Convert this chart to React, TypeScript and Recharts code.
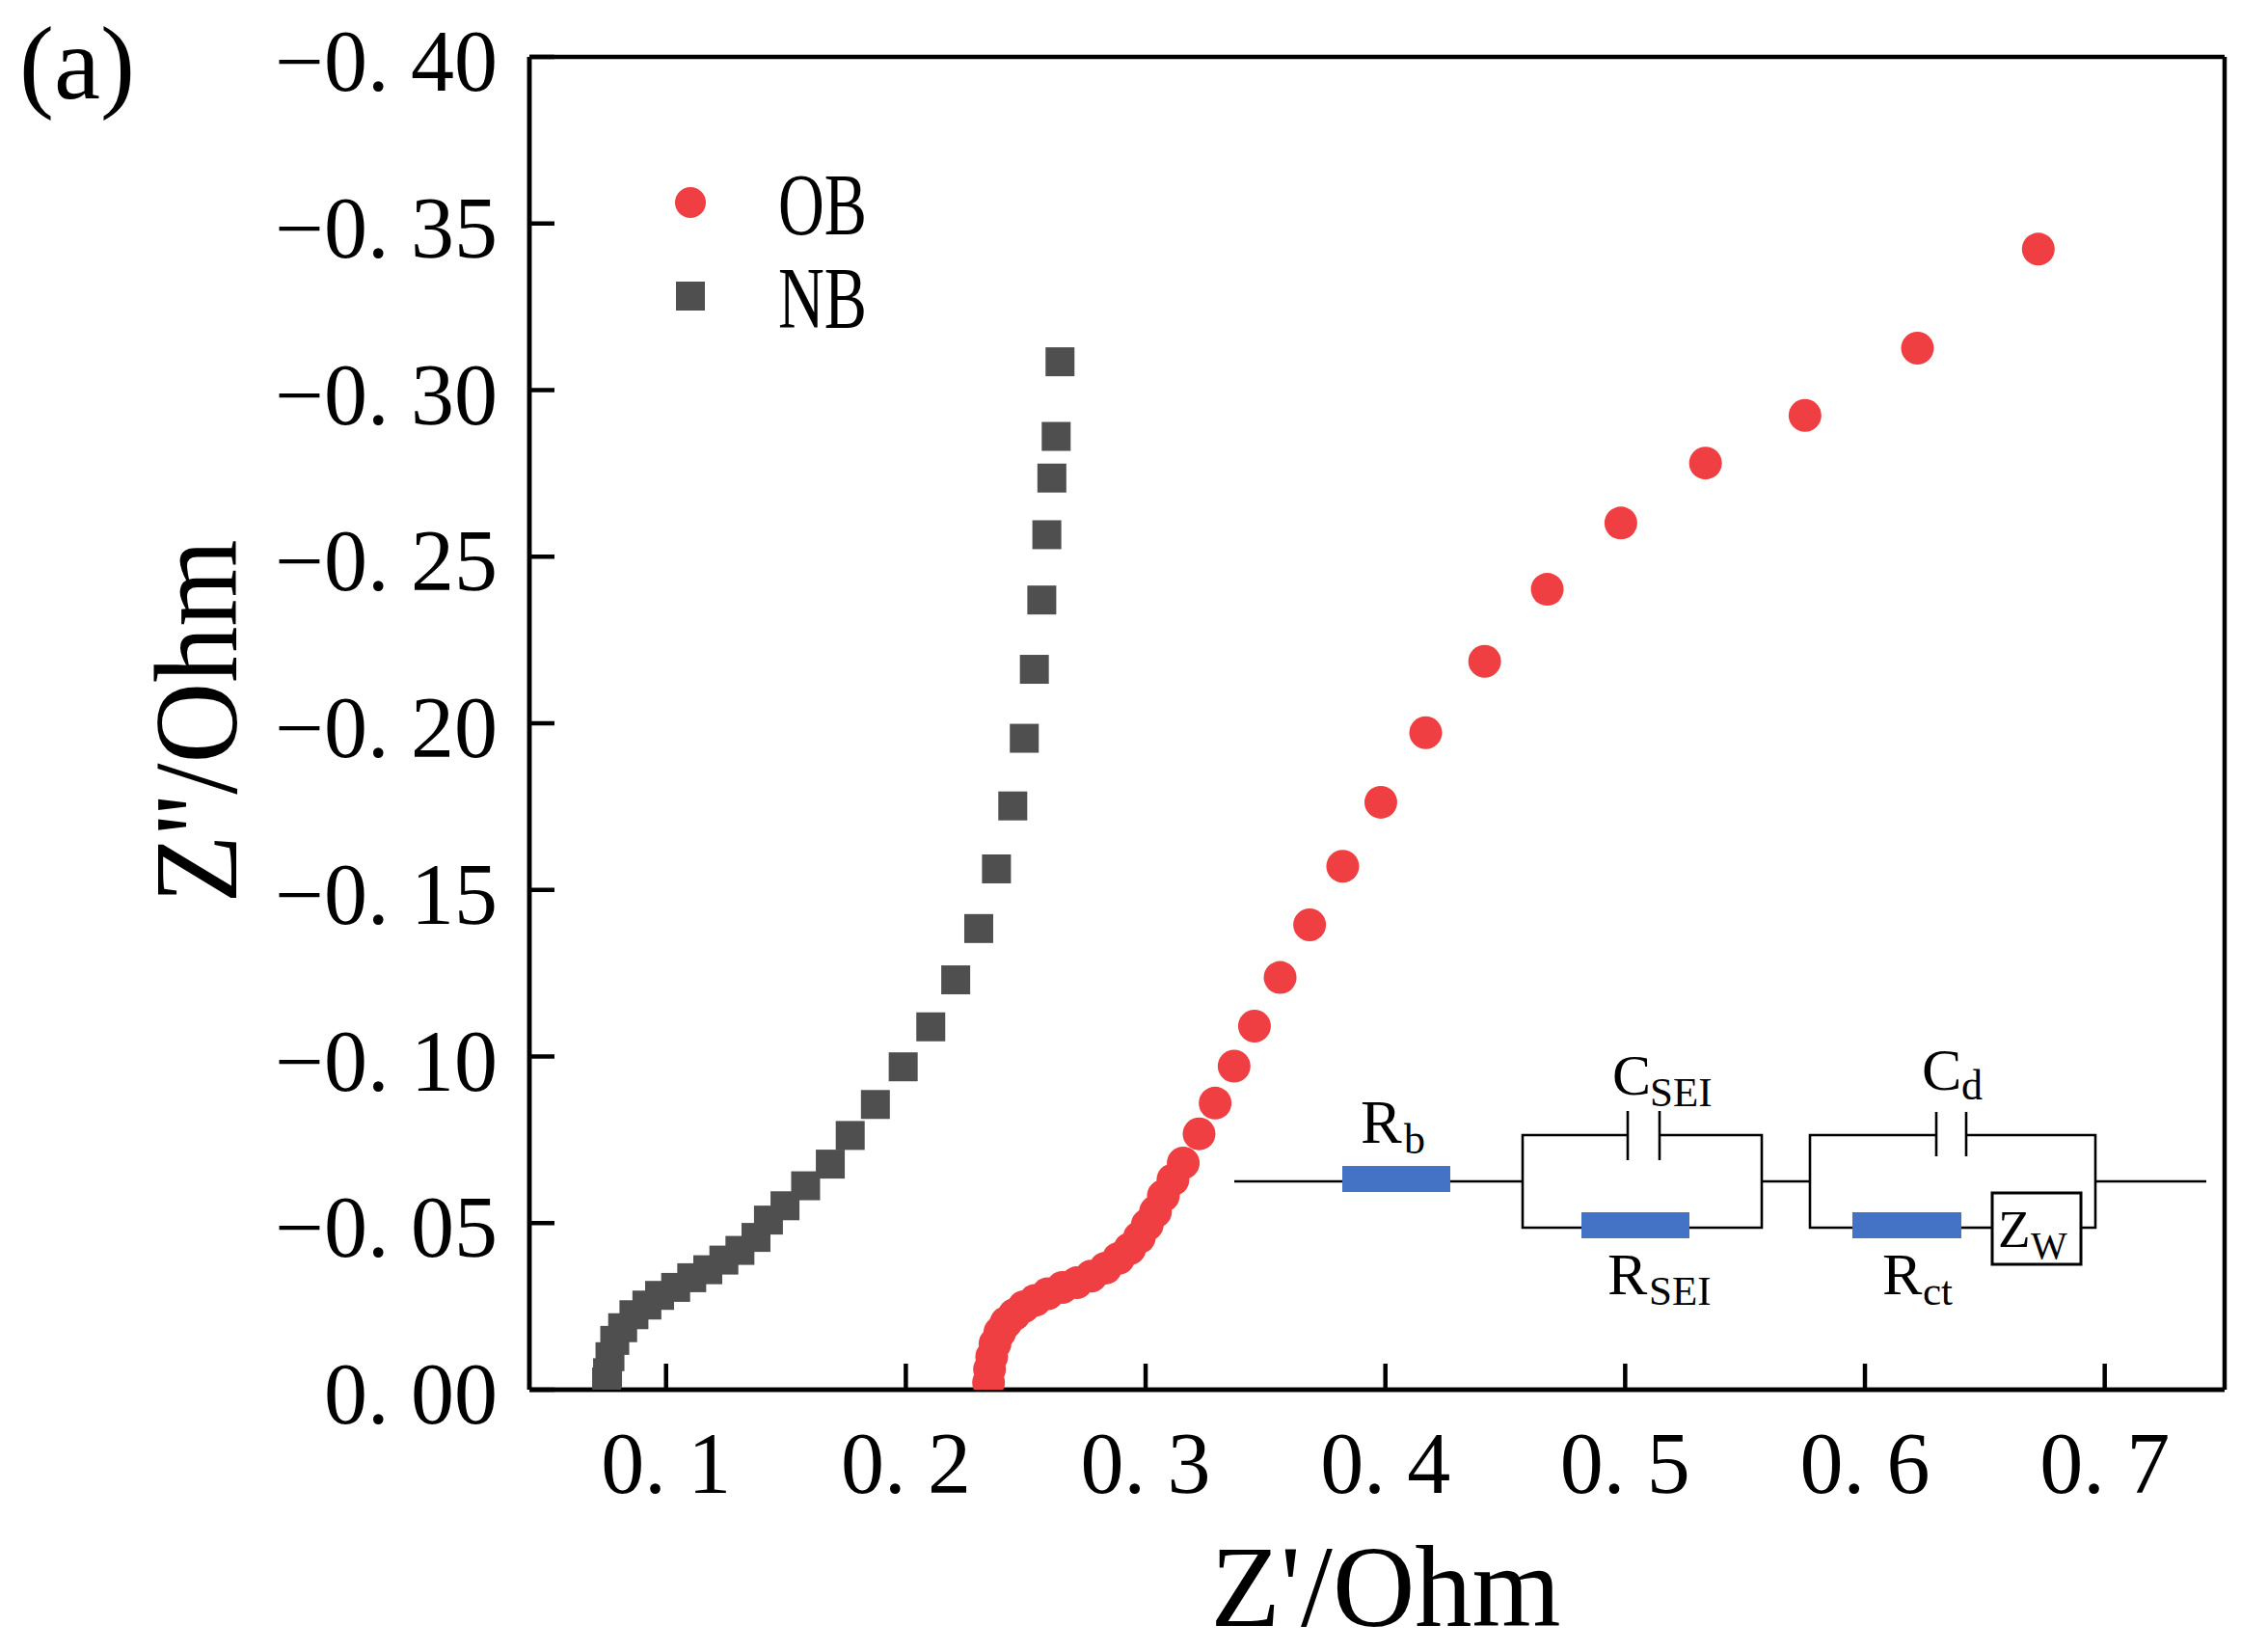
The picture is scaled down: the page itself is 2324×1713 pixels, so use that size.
import React from "react";
import {
  CartesianGrid,
  Legend,
  Scatter,
  ScatterChart,
  XAxis,
  YAxis,
} from "recharts";

const OB_ZRE = [
  0.2345, 0.2349, 0.2358, 0.2372, 0.2392, 0.2418, 0.2452, 0.2492, 0.2539, 0.2592,
  0.2653, 0.2713, 0.2773, 0.2833, 0.2887, 0.2934, 0.2974, 0.3007, 0.3041, 0.3074,
  0.3114, 0.3157, 0.3223, 0.329, 0.3369, 0.3454, 0.3561, 0.3684, 0.3822, 0.3981,
  0.4168, 0.4414, 0.4675, 0.4982, 0.5335, 0.575, 0.6219, 0.6723,
];
const OB_ZIM = [
  -0.0022, -0.0061, -0.0099, -0.0138, -0.0172, -0.0201, -0.0225, -0.0249, -0.0268, -0.0288,
  -0.0307, -0.0321, -0.0341, -0.0365, -0.0394, -0.0423, -0.0457, -0.0495, -0.0534, -0.0582,
  -0.063, -0.068, -0.0768, -0.086, -0.0971, -0.1091, -0.1237, -0.1395, -0.1571, -0.1763,
  -0.1972, -0.2186, -0.2402, -0.2601, -0.2781, -0.2924, -0.3126, -0.3423,
];
const NB_ZRE = [
  0.0752, 0.0756, 0.0766, 0.0786, 0.0819, 0.0866, 0.092, 0.0973, 0.104, 0.1107,
  0.1174, 0.1241, 0.1308, 0.1375, 0.1427, 0.1496, 0.1582, 0.1685, 0.1768, 0.1873,
  0.1989, 0.2104, 0.2208, 0.2304, 0.2378, 0.2446, 0.2494, 0.2536, 0.2567, 0.2588,
  0.2609, 0.2627, 0.2643,
];
const NB_ZIM = [
  -0.0023, -0.0051, -0.0099, -0.0148, -0.0186, -0.0225, -0.0254, -0.0283, -0.0307, -0.0336,
  -0.036, -0.0389, -0.0418, -0.0457, -0.0509, -0.0552, -0.0612, -0.0677, -0.0763, -0.0856,
  -0.0969, -0.1089, -0.123, -0.1384, -0.1563, -0.1752, -0.1955, -0.2162, -0.237, -0.2566,
  -0.2736, -0.2861, -0.3085,
];

const X_TICKS = [0.1, 0.2, 0.3, 0.4, 0.5, 0.6, 0.7];
const Y_TICKS = [0, -0.05, -0.1, -0.15, -0.2, -0.25, -0.3, -0.35, -0.4];

const RED = "#ef3f42";
const GREY = "#4f4f4f";
const BLUE = "#4472c4";
const FONT = '"Liberation Serif", "Times New Roman", serif';

const toRows = (re: number[], im: number[]) => re.map((x, i) => ({ x, y: im[i] }));
const obRows = toRows(OB_ZRE, OB_ZIM);
const nbRows = toRows(NB_ZRE, NB_ZIM);

const fmtX = (v: number) => `0. ${Math.round(v * 10)}`;
const fmtY = (v: number) =>
  v === 0 ? "0. 00" : `\u22120. ${String(Math.round(Math.abs(v) * 100)).padStart(2, "0")}`;

function XTick({ x, y, payload }: any) {
  return (
    <g>
      <line x1={x} x2={x} y1={y} y2={y - 27} stroke="#000" strokeWidth={4.5} />
      <text x={x} y={y + 107} textAnchor="middle" fontFamily={FONT} fontSize={90} fill="#000">
        {fmtX(payload.value)}
      </text>
    </g>
  );
}

function YTick({ x, y, payload }: any) {
  return (
    <g>
      <line x1={x} x2={x + 26} y1={y} y2={y} stroke="#000" strokeWidth={4.5} />
      <text x={x - 33} y={y + 35} textAnchor="end" fontFamily={FONT} fontSize={90} fill="#000">
        {fmtY(payload.value)}
      </text>
    </g>
  );
}

const dot = (p: any) => <circle cx={p.cx} cy={p.cy} r={17} fill={RED} />;
const square = (p: any) => <rect x={p.cx - 15} y={p.cy - 15} width={30} height={30} fill={GREY} />;

function LegendBox() {
  const rows = [
    { name: "OB", kind: "circle" },
    { name: "NB", kind: "square" },
  ];
  return (
    <svg width={300} height={240}>
      {rows.map((r, i) => {
        const cy = 60 + i * 97;
        return (
          <g key={r.name}>
            {r.kind === "circle" ? (
              <circle cx={26} cy={cy} r={16} fill={RED} />
            ) : (
              <rect x={11} y={cy - 15} width={30} height={30} fill={GREY} />
            )}
            <text
              x={117}
              y={cy + 33}
              fontFamily={FONT}
              fontSize={90}
              textLength={92}
              lengthAdjust="spacingAndGlyphs"
              fill="#000"
            >
              {r.name}
            </text>
          </g>
        );
      })}
    </svg>
  );
}

function Circuit() {
  const w = { stroke: "#000", strokeWidth: 2.6, fill: "none" };
  const lab = { fontFamily: FONT, fill: "#000" };
  return (
    <g>
      {/* series resistor Rb */}
      <line x1={1280} y1={1225} x2={1392} y2={1225} {...w} />
      <rect x={1392} y={1209} width={112} height={27} fill={BLUE} />
      <line x1={1504} y1={1225} x2={1579} y2={1225} {...w} />
      <text x={1411} y={1185} fontSize={64} {...lab}>R</text>
      <text x={1456} y={1196} fontSize={44} {...lab}>b</text>

      {/* SEI block */}
      <polyline points="1688,1177 1579,1177 1579,1273 1640,1273" {...w} />
      <polyline points="1721,1177 1827,1177 1827,1273 1752,1273" {...w} />
      <line x1={1688} y1={1152} x2={1688} y2={1203} {...w} />
      <line x1={1721} y1={1152} x2={1721} y2={1203} {...w} />
      <rect x={1640} y={1257} width={112} height={27} fill={BLUE} />
      <text x={1672} y={1135} fontSize={60} {...lab}>C</text>
      <text x={1711} y={1147} fontSize={43} {...lab}>SEI</text>
      <text x={1667} y={1342} fontSize={62} {...lab}>R</text>
      <text x={1710} y={1353} fontSize={43} {...lab}>SEI</text>

      <line x1={1827} y1={1225} x2={1877} y2={1225} {...w} />

      {/* charge-transfer block */}
      <polyline points="2008,1177 1877,1177 1877,1273 1921,1273" {...w} />
      <polyline points="2039,1177 2173,1177 2173,1273 2158,1273" {...w} />
      <line x1={2008} y1={1153} x2={2008} y2={1199} {...w} />
      <line x1={2039} y1={1153} x2={2039} y2={1199} {...w} />
      <rect x={1921} y={1257} width={113} height={27} fill={BLUE} />
      <line x1={2034} y1={1273} x2={2066} y2={1273} {...w} />
      <rect x={2066} y={1237} width={92} height={74} stroke="#000" strokeWidth={3} fill="#fff" />
      <text x={2072} y={1293} fontSize={55} {...lab}>Z</text>
      <text x={2106} y={1305} fontSize={40} {...lab}>W</text>
      <text x={1993} y={1130} fontSize={62} {...lab}>C</text>
      <text x={2034} y={1140} fontSize={44} {...lab}>d</text>
      <text x={1952} y={1342} fontSize={62} {...lab}>R</text>
      <text x={1994} y={1353} fontSize={43} {...lab}>ct</text>

      <line x1={2173} y1={1225} x2={2288} y2={1225} {...w} />
    </g>
  );
}

export default function App() {
  return (
    <div style={{ position: "relative", width: 2324, height: 1713, background: "#fff" }}>
      <style>{"body{margin:0;}"}</style>
      <ScatterChart width={2324} height={1713} margin={{ top: 59, right: 17, bottom: 0, left: 0 }}>
        <CartesianGrid
          horizontalPoints={[59, 1441]}
          verticalPoints={[549, 2307]}
          stroke="#000"
          strokeWidth={4.5}
        />
        <XAxis
          type="number"
          dataKey="x"
          domain={[0.043, 0.75]}
          ticks={X_TICKS}
          interval={0}
          allowDataOverflow
          height={272}
          tickSize={0}
          tickMargin={0}
          tickLine={false}
          axisLine={{ stroke: "#000", strokeWidth: 4.5 }}
          tick={(p: any) => <XTick {...p} />}
        />
        <YAxis
          type="number"
          dataKey="y"
          domain={[-0.4, 0]}
          reversed
          ticks={Y_TICKS}
          interval={0}
          allowDataOverflow
          width={549}
          tickSize={0}
          tickMargin={0}
          tickLine={false}
          axisLine={{ stroke: "#000", strokeWidth: 4.5 }}
          tick={(p: any) => <YTick {...p} />}
        />
        <Legend
          layout="vertical"
          align="center"
          verticalAlign="middle"
          content={() => <LegendBox />}
          wrapperStyle={{ left: 690, top: 150, width: 300, height: 240 }}
        />
        <Scatter name="OB" data={obRows} fill={RED} shape={dot} isAnimationActive={false} />
        <Scatter name="NB" data={nbRows} fill={GREY} shape={square} isAnimationActive={false} />
      </ScatterChart>
      <svg
        width={2324}
        height={1713}
        style={{ position: "absolute", left: 0, top: 0, pointerEvents: "none" }}
      >
        <text x={20} y={102} fontFamily={FONT} fontSize={108} fill="#000">(a)</text>
        <text
          x={1437}
          y={1686}
          textAnchor="middle"
          fontFamily={FONT}
          fontSize={120}
          textLength={363}
          lengthAdjust="spacingAndGlyphs"
          fill="#000"
        >
          Z'/Ohm
        </text>
        <text
          transform="translate(245,748) rotate(-90)"
          textAnchor="middle"
          fontFamily={FONT}
          fontSize={122}
          textLength={377}
          lengthAdjust="spacingAndGlyphs"
          fill="#000"
        >
          Z''/Ohm
        </text>
        <Circuit />
      </svg>
    </div>
  );
}
